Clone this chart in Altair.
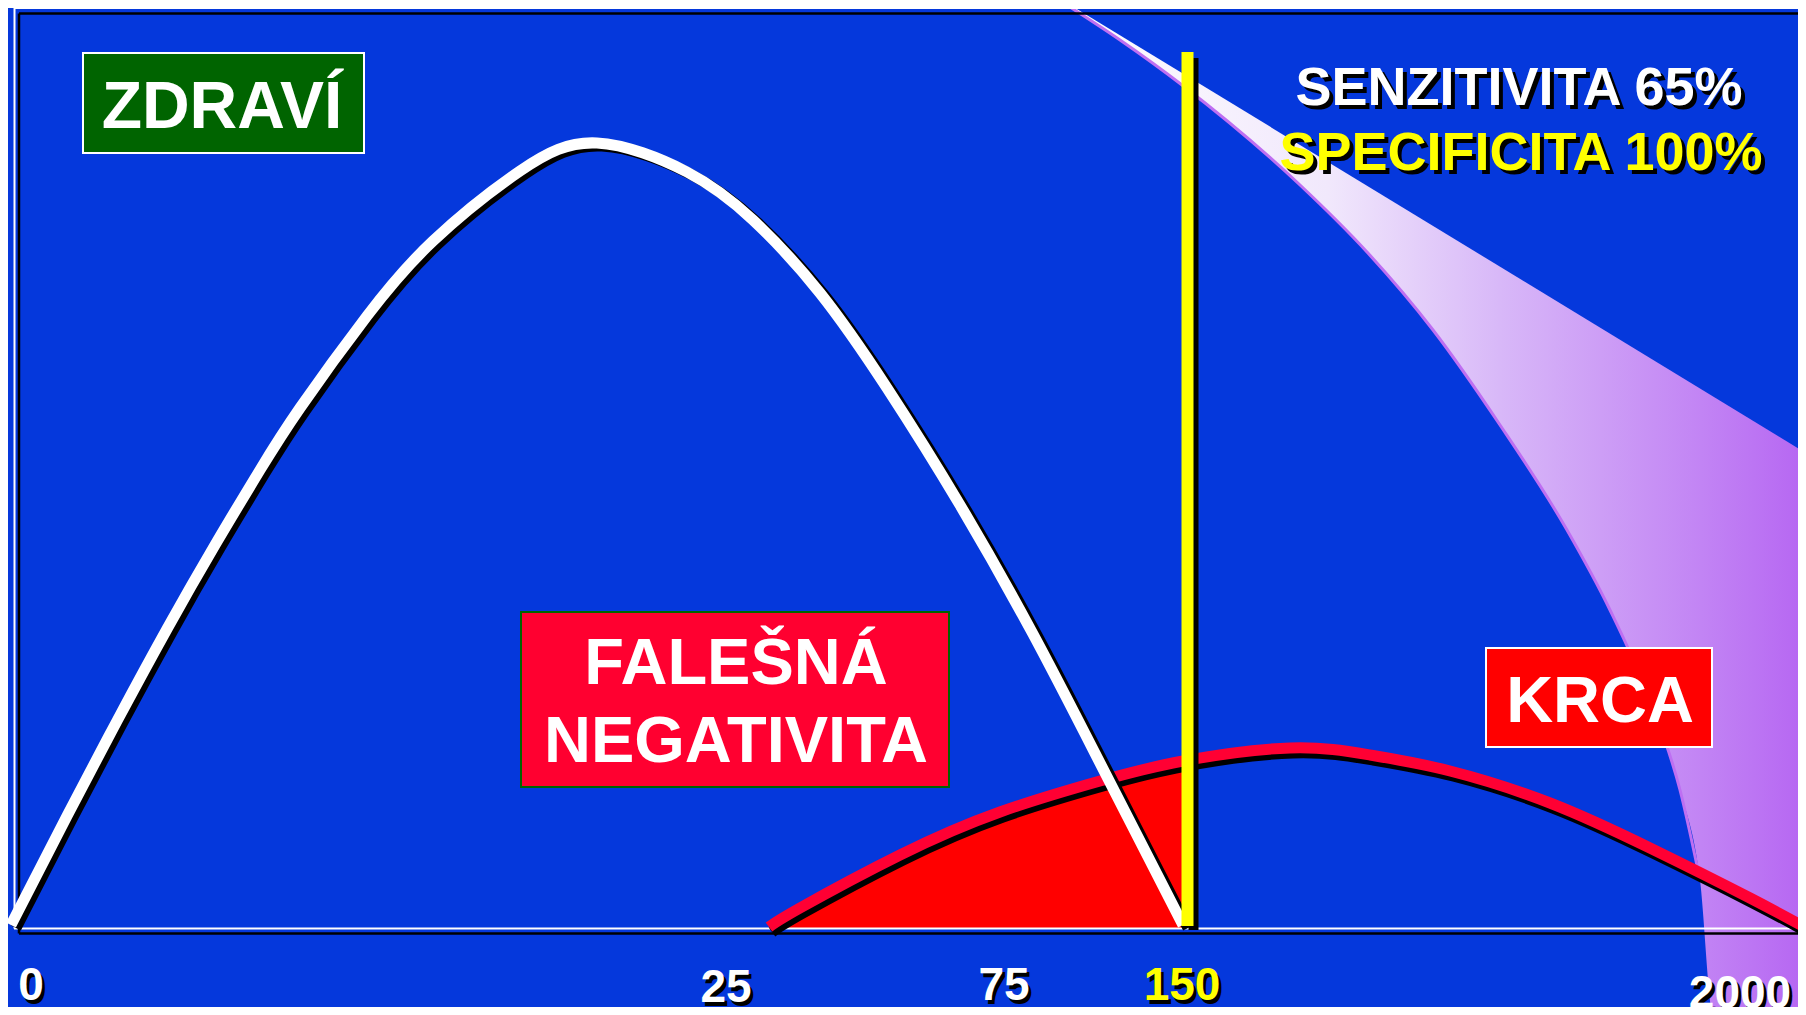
import altair as alt
import pandas as pd

# ---------------- values ----------------
# x = horizontal position on the slide, h = height above the axis line
healthy_x = [11, 67, 117, 167, 215, 260, 300, 367, 433, 520, 597, 687, 753, 820, 887, 960, 1033, 1100, 1183]
healthy_h = [4, 113, 208, 300, 384, 459, 521, 613, 688, 758, 786, 757, 709, 636, 541, 424, 295, 166, 4]

cancer_x = [769, 800, 900, 1000, 1100, 1183, 1290, 1370, 1450, 1550, 1650, 1750, 1806]
cancer_h = [2, 21, 74, 117, 148, 168, 181, 174, 158, 126, 81, 31, 1]

cutoff_x = 1187.5          # threshold "150"
cutoff_top = 877
cutoff_bottom = 3

edge_x = [1059, 1120, 1182, 1300, 1367, 1433, 1500, 1567, 1610, 1650, 1680, 1700, 1713, 1806]
edge_h = [929, 889, 844, 744, 677, 599, 504, 399, 319, 229, 139, 49, -86, -86]
beam_x = [1062, 1806]
beam_h = [929, 476]

tick_labels = ["0", "25", "75", "150", "2000"]
tick_x = [31, 726, 1004, 1182, 1740]
tick_h = [-71, -73, -71, -71, -79]
tick_colors = ["#FFFFFF", "#FFFFFF", "#FFFFFF", "#FFFF00", "#FFFFFF"]

box_x1 = [83, 521, 1486]
box_x2 = [364, 949, 1712]
box_h1 = [876, 317, 281]
box_h2 = [776, 142, 182]
box_fill = ["#006400", "#FF0030", "#FF0000"]
box_stroke = ["#FFFFFF", "#006400", "#FFFFFF"]

box_text = ["ZDRAVÍ", "FALEŠNÁ", "NEGATIVITA", "KRCA"]
box_text_x = [222, 736, 736, 1600]
box_text_h = [801, 245, 167, 207]
box_text_size = [66, 65, 65, 65]

head_text = ["SENZITIVITA 65%", "SPECIFICITA 100%"]
head_x = [1519, 1521]
head_h = [824, 759]
head_colors = ["#FFFFFF", "#FFFF00"]
head_size = [54, 54]

BG = "#0538DC"
FONT = "Liberation Sans"

# ---------------- tables ----------------
healthy = pd.DataFrame({"x": healthy_x, "h": healthy_h})
cancer = pd.DataFrame({"x": cancer_x, "h": cancer_h})
cancer_fn = cancer[cancer["x"] <= cutoff_x].assign(base=0)
edge = pd.DataFrame({"x": edge_x, "h": edge_h, "top": 940})
beam = pd.DataFrame({"x": beam_x, "h": beam_h, "top": 940})
cut = pd.DataFrame({"x": [cutoff_x], "h": [cutoff_top], "h2": [cutoff_bottom]})
ticks = pd.DataFrame({"label": tick_labels, "x": tick_x, "h": tick_h, "c": tick_colors})
boxes = pd.DataFrame({"x": box_x1, "x2": box_x2, "h": box_h1, "h2": box_h2,
                      "f": box_fill, "s": box_stroke})
btext = pd.DataFrame({"label": box_text, "x": box_text_x, "h": box_text_h, "sz": box_text_size})
htext = pd.DataFrame({"label": head_text, "x": head_x, "h": head_h, "c": head_colors, "sz": head_size})

white_frame = pd.DataFrame({"x": [14, 14.5, 14], "x2": [1798, 14.5, 1798],
                            "h": [921, 921, 0.5], "h2": [921, 0.5, 0.5]})
black_frame = pd.DataFrame({"x": [19, 19, 19], "x2": [1798, 19, 1798],
                            "h": [915.5, 915.5, -4.5], "h2": [915.5, -4.5, -4.5]})

xs = alt.Scale(domain=[8, 1798], nice=False, zero=False)
ys = alt.Scale(domain=[-78, 921], nice=False, zero=False)
X = alt.X("x:Q", scale=xs, axis=None)
Y = alt.Y("h:Q", scale=ys, axis=None)

grad = alt.Gradient(
    gradient="linear", x1=0, x2=1, y1=0, y2=0,
    stops=[alt.GradientStop(offset=0, color="#FFFFFF"),
           alt.GradientStop(offset=0.36, color="#F1E8FC"),
           alt.GradientStop(offset=0.59, color="#D8B8F8"),
           alt.GradientStop(offset=0.86, color="#C284F4"),
           alt.GradientStop(offset=1, color="#B666F2")])

beam_area = alt.Chart(edge).mark_area(color=grad, interpolate="monotone").encode(
    x=X, y=Y, y2=alt.Y2("top:Q"))
beam_mask = alt.Chart(beam).mark_area(color=BG).encode(x=X, y=Y, y2=alt.Y2("top:Q"))
beam_edge = alt.Chart(edge[edge["h"] > -86]).mark_line(
    color="#BE6FF2", strokeWidth=3, interpolate="monotone").encode(x=X, y=Y)

fn_fill = alt.Chart(cancer_fn).mark_area(color="#FF0000", interpolate="natural").encode(
    x=X, y=Y, y2=alt.Y2("base:Q"))

wf = alt.Chart(white_frame).mark_rule(color="#FFFFFF", strokeWidth=2).encode(
    x=X, x2="x2:Q", y=Y, y2="h2:Q")
bf = alt.Chart(black_frame).mark_rule(color="#000000", strokeWidth=2.5).encode(
    x=X, x2="x2:Q", y=Y, y2="h2:Q")

cancer_sh = alt.Chart(cancer).mark_line(color="#000000", strokeWidth=11, xOffset=3, yOffset=5,
                                         interpolate="natural").encode(x=X, y=Y)
cancer_ln = alt.Chart(cancer).mark_line(color="#FF0033", strokeWidth=11,
                                         interpolate="natural").encode(x=X, y=Y)
healthy_sh = alt.Chart(healthy).mark_line(color="#000000", strokeWidth=11, xOffset=5, yOffset=3,
                                           interpolate="natural").encode(x=X, y=Y)
healthy_ln = alt.Chart(healthy).mark_line(color="#FFFFFF", strokeWidth=11,
                                           interpolate="natural").encode(x=X, y=Y)

cut_sh = alt.Chart(cut).mark_rule(color="#000000", strokeWidth=10, xOffset=6, yOffset=6,
                                  y2Offset=4).encode(x=X, y=Y, y2="h2:Q")
cut_ln = alt.Chart(cut).mark_rule(color="#FFFF00", strokeWidth=12).encode(x=X, y=Y, y2="h2:Q")

box_layer = alt.Chart(boxes).mark_rect(strokeWidth=2).encode(
    x=X, x2="x2:Q", y=Y, y2="h2:Q",
    fill=alt.Fill("f:N", scale=None), stroke=alt.Stroke("s:N", scale=None))

box_txt = alt.Chart(btext).mark_text(font=FONT, fontWeight="bold", align="center",
                                     baseline="alphabetic", color="#FFFFFF").encode(
    x=X, y=Y, text="label:N", size=alt.Size("sz:Q", scale=None))


def shadowed(df, size, dx, dy):
    sh = alt.Chart(df).mark_text(font=FONT, fontWeight="bold", align="center",
                                 baseline="alphabetic", color="#000000", dx=dx, dy=dy).encode(
        x=X, y=Y, text="label:N", size=size)
    fg = alt.Chart(df).mark_text(font=FONT, fontWeight="bold", align="center",
                                 baseline="alphabetic").encode(
        x=X, y=Y, text="label:N", size=size, color=alt.Color("c:N", scale=None))
    return sh + fg


head_layer = shadowed(htext, alt.Size("sz:Q", scale=None), 4, 4)
tick_layer = shadowed(ticks, alt.value(46), 3, 4)

chart = alt.layer(
    beam_area, beam_mask, beam_edge, fn_fill, wf, bf,
    cancer_sh, cancer_ln, healthy_sh, healthy_ln, cut_sh, cut_ln,
    box_layer, box_txt, head_layer, tick_layer
).properties(
    width=1790, height=999, padding=0,
    autosize=alt.AutoSizeParams(type="none"),
    background=BG
).configure_view(stroke=None)

chart.save("out.html", embed_options={"renderer": "svg", "actions": False})
